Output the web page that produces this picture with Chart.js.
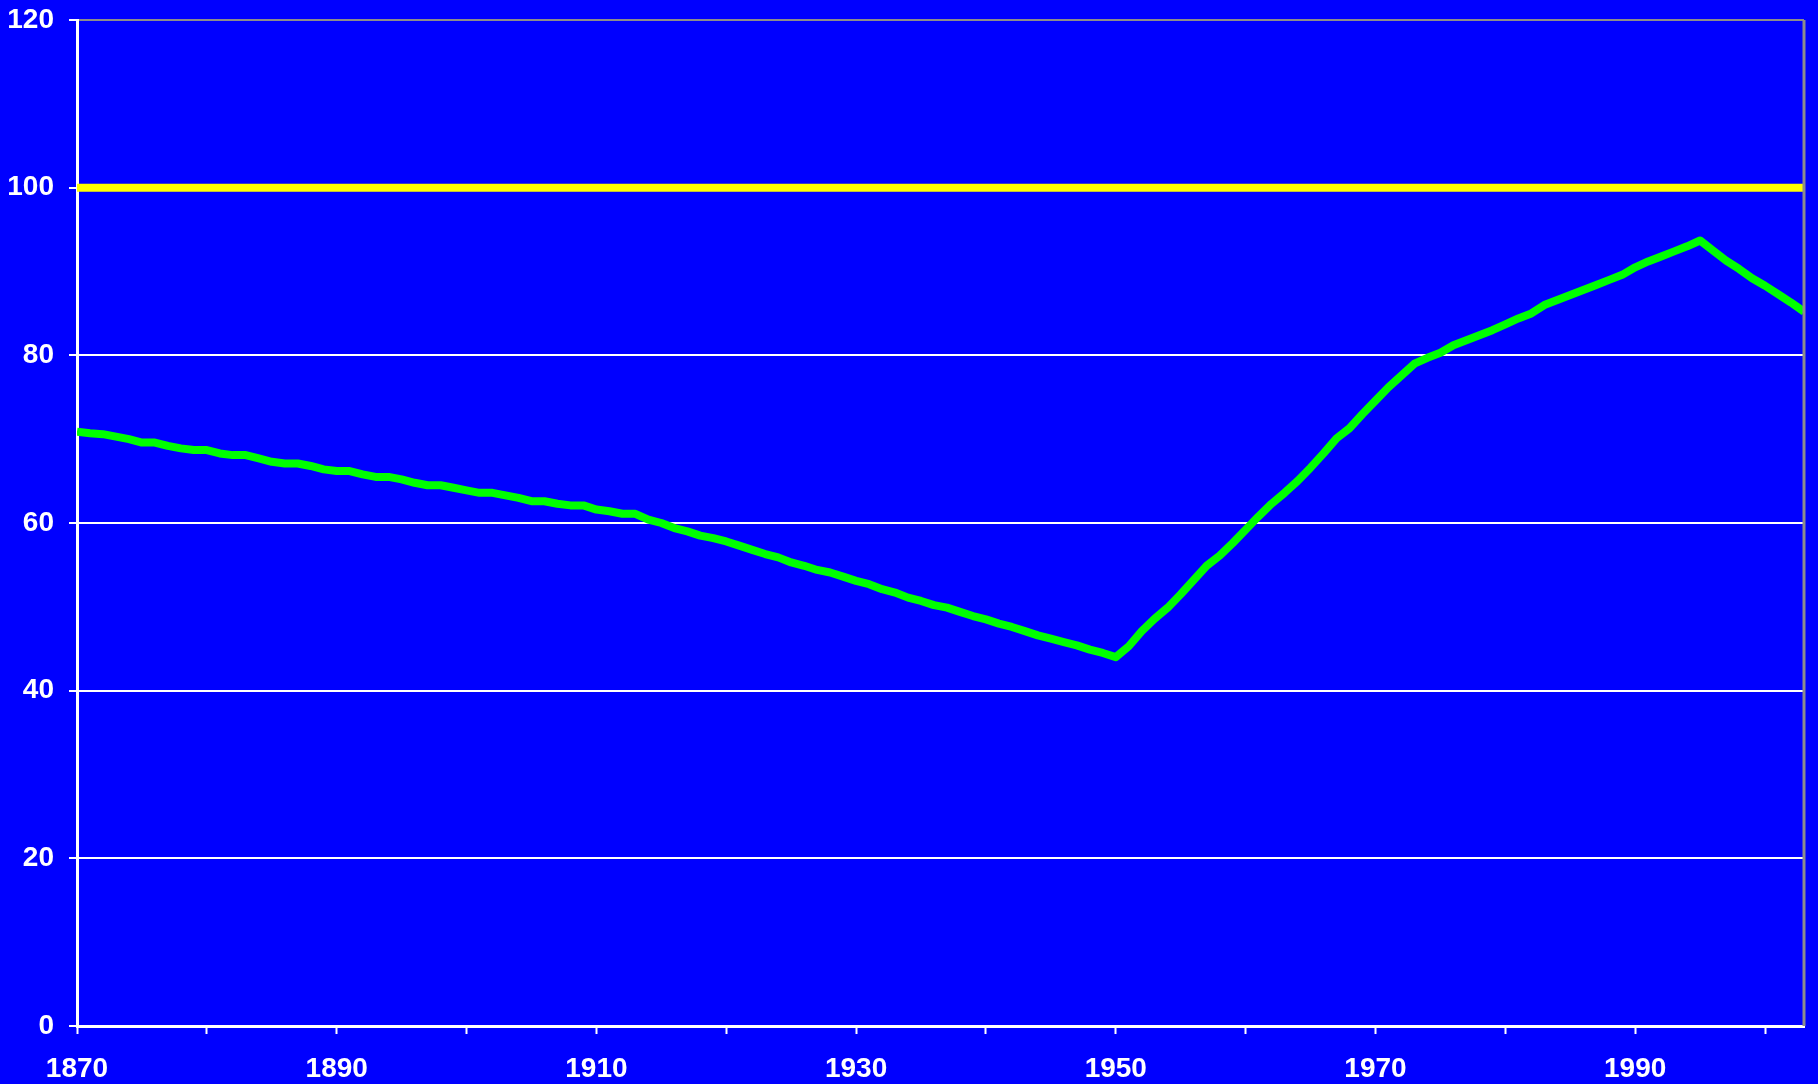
<!DOCTYPE html>
<html lang="en">
<head>
    <meta charset="UTF-8">
    <title>Index 1870-2003</title>
    <script src="https://cdn.jsdelivr.net/npm/chart.js"></script>
    <style>
        * {
            margin: 0;
            padding: 0;
            box-sizing: border-box;
        }

        body {
            background: #0000ff;
            width: 1818px;
            height: 1084px;
            overflow: hidden;
        }

        .chart-container {
            position: relative;
            width: 1818px;
            height: 1084px;
        }
    </style>
</head>
<body>
    <div class="chart-container">
        <canvas id="indexChart"></canvas>
    </div>

    <script>
        // years on the x axis
        const years = [
            1870, 1871, 1872, 1873, 1874, 1875, 1876, 1877, 1878, 1879,
            1880, 1881, 1882, 1883, 1884, 1885, 1886, 1887, 1888, 1889,
            1890, 1891, 1892, 1893, 1894, 1895, 1896, 1897, 1898, 1899,
            1900, 1901, 1902, 1903, 1904, 1905, 1906, 1907, 1908, 1909,
            1910, 1911, 1912, 1913, 1914, 1915, 1916, 1917, 1918, 1919,
            1920, 1921, 1922, 1923, 1924, 1925, 1926, 1927, 1928, 1929,
            1930, 1931, 1932, 1933, 1934, 1935, 1936, 1937, 1938, 1939,
            1940, 1941, 1942, 1943, 1944, 1945, 1946, 1947, 1948, 1949,
            1950, 1951, 1952, 1953, 1954, 1955, 1956, 1957, 1958, 1959,
            1960, 1961, 1962, 1963, 1964, 1965, 1966, 1967, 1968, 1969,
            1970, 1971, 1972, 1973, 1974, 1975, 1976, 1977, 1978, 1979,
            1980, 1981, 1982, 1983, 1984, 1985, 1986, 1987, 1988, 1989,
            1990, 1991, 1992, 1993, 1994, 1995, 1996, 1997, 1998, 1999,
            2000, 2001, 2002, 2003
        ];

        // green series
        const indexValues = [
            70.9, 70.7, 70.6, 70.3, 70.0, 69.6, 69.6, 69.2, 68.9, 68.7,
            68.7, 68.3, 68.1, 68.1, 67.7, 67.3, 67.1, 67.1, 66.8, 66.4,
            66.2, 66.2, 65.8, 65.5, 65.5, 65.2, 64.8, 64.5, 64.5, 64.2,
            63.9, 63.6, 63.6, 63.3, 63.0, 62.6, 62.6, 62.3, 62.1, 62.1,
            61.6, 61.4, 61.1, 61.1, 60.4, 60.0, 59.4, 59.0, 58.5, 58.2,
            57.8, 57.3, 56.8, 56.3, 55.9, 55.3, 54.9, 54.4, 54.1, 53.6,
            53.1, 52.7, 52.1, 51.7, 51.1, 50.7, 50.2, 49.9, 49.4, 48.9,
            48.5, 48.0, 47.6, 47.1, 46.6, 46.2, 45.8, 45.4, 44.9, 44.5,
            44.0, 45.3, 47.1, 48.6, 49.9, 51.5, 53.2, 54.9, 56.1, 57.6,
            59.2, 60.8, 62.3, 63.6, 65.0, 66.6, 68.3, 70.1, 71.3, 73.0,
            74.6, 76.2, 77.6, 79.0, 79.7, 80.3, 81.2, 81.8, 82.4, 83.0,
            83.7, 84.4, 85.0, 86.0, 86.6, 87.2, 87.8, 88.4, 89.0, 89.6,
            90.5, 91.2, 91.8, 92.4, 93.0, 93.7, 92.5, 91.3, 90.3, 89.2,
            88.3, 87.3, 86.3, 85.2
        ];

        // yellow reference line at 100
        const refYears = [1870, 2003];
        const refValues = [100, 100];

        // axis ticks
        const xTickLabels = [1870, 1890, 1910, 1930, 1950, 1970, 1990];
        const yTicks = [0, 20, 40, 60, 80, 100, 120];

        const labelFont = {
            family: "'Liberation Sans', Arial, sans-serif",
            size: 28,
            weight: 'bold'
        };

        const ctx = document.getElementById('indexChart').getContext('2d');

        const config = {
            type: 'line',
            data: {
                datasets: [
                    {
                        label: 'Reference',
                        data: refYears.map((y, i) => ({ x: y, y: refValues[i] })),
                        borderColor: '#ffff00',
                        borderWidth: 8,
                        pointRadius: 0,
                        tension: 0,
                        clip: 0
                    },
                    {
                        label: 'Index',
                        data: years.map((y, i) => ({ x: y, y: indexValues[i] })),
                        borderColor: '#00ff00',
                        borderWidth: 8,
                        pointRadius: 0,
                        tension: 0,
                        borderJoinStyle: 'round',
                        clip: 0
                    }
                ]
            },
            options: {
                responsive: false,
                animation: false,
                events: [],
                layout: {
                    padding: { top: 20, right: 14, bottom: 0, left: 0 }
                },
                scales: {
                    x: {
                        type: 'linear',
                        min: 1870,
                        max: 2003,
                        afterFit: function(scale) {
                            scale.height = 58;
                            scale.paddingLeft = 0;
                            scale.paddingRight = 0;
                        },
                        ticks: {
                            stepSize: 10,
                            includeBounds: false,
                            autoSkip: false,
                            maxRotation: 0,
                            padding: 18,
                            color: '#ffffff',
                            font: labelFont,
                            callback: function(value) {
                                return xTickLabels.includes(value) ? String(value) : '';
                            }
                        },
                        grid: {
                            drawOnChartArea: false,
                            drawTicks: true,
                            tickLength: 8,
                            tickWidth: 2,
                            tickColor: '#ffffff'
                        },
                        border: {
                            color: '#ffffff',
                            width: 3
                        }
                    },
                    y: {
                        min: 0,
                        max: 120,
                        afterFit: function(scale) {
                            scale.width = 77;
                            // let the top label hang over the padding
                            scale.paddingTop = 0;
                            scale.paddingBottom = 0;
                        },
                        afterBuildTicks: function(scale) {
                            scale.ticks = yTicks.map(v => ({ value: v }));
                        },
                        ticks: {
                            padding: 15,
                            color: '#ffffff',
                            font: labelFont
                        },
                        grid: {
                            color: function(c) {
                                return c.tick && c.tick.value === 120 ? '#8c8c8c' : '#ffffff';
                            },
                            lineWidth: 2,
                            tickLength: 8,
                            tickWidth: 2,
                            tickColor: '#ffffff'
                        },
                        border: {
                            color: '#ffffff',
                            width: 3
                        }
                    }
                },
                plugins: {
                    legend: { display: false },
                    tooltip: { enabled: false }
                }
            },
            plugins: [{
                // grey right edge of the plot area
                id: 'rightEdge',
                afterDatasetsDraw: function(chart) {
                    const a = chart.chartArea;
                    const c = chart.ctx;
                    c.save();
                    c.strokeStyle = '#8c8c8c';
                    c.lineWidth = 3;
                    c.beginPath();
                    c.moveTo(a.right, a.top);
                    c.lineTo(a.right, a.bottom);
                    c.stroke();
                    c.restore();
                }
            }]
        };

        const canvas = document.getElementById('indexChart');
        canvas.width = 1818;
        canvas.height = 1084;
        new Chart(ctx, config);
    </script>
</body>
</html>
